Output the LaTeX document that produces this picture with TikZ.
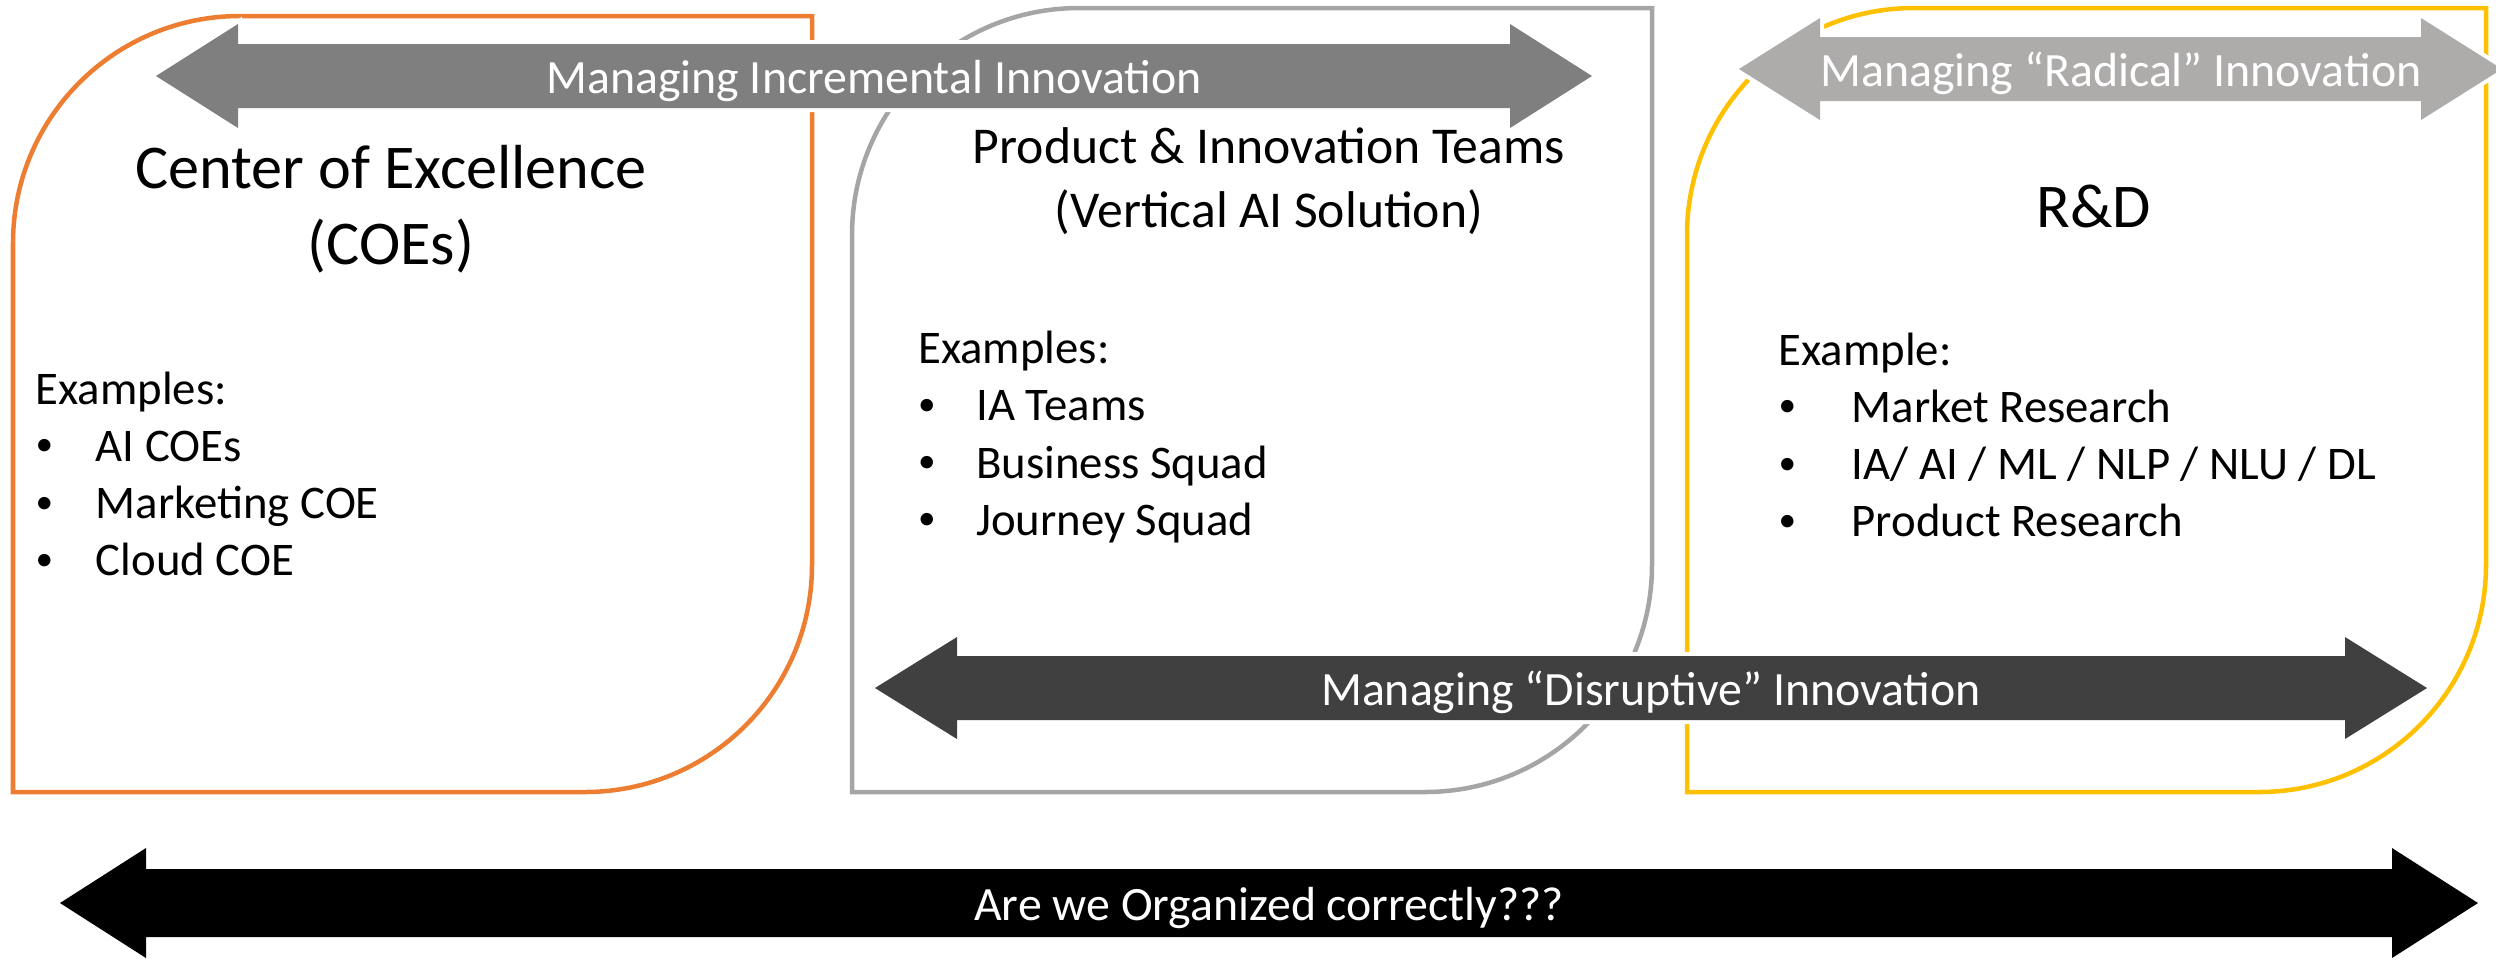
\documentclass[tikz,border=0pt]{standalone}
\usepackage{fontspec}
\setmainfont{Carlito}

\definecolor{coeorange}{HTML}{ED7D31}
\definecolor{teamgray}{HTML}{A5A5A5}
\definecolor{rndgold}{HTML}{FFC000}
\definecolor{incgray}{HTML}{7F7F7F}
\definecolor{radgray}{HTML}{AEABAB}
\definecolor{disgray}{HTML}{404040}

% leaf-shaped frame: rounded top-left and bottom-right corners
% #1 colour, #2 left, #3 top, #4 right, #5 bottom, #6 radius
\newcommand\leafbox[6]{%
  \draw[boxline, draw=#1] ({#2},{#5}) -- ({#2},{#3+#6})
    .. controls ({#2},{#3+0.4477*#6}) and ({#2+0.4477*#6},{#3}) .. ({#2+#6},{#3})
    -- ({#4},{#3}) -- ({#4},{#5-#6})
    .. controls ({#4},{#5-0.4477*#6}) and ({#4-0.4477*#6},{#5}) .. ({#4-#6},{#5})
    -- cycle;}

% horizontal block arrow with two heads and a white halo
% #1 colour, #2 left tip, #3 right tip, #4 centre y, #5 head half height,
% #6 shaft half height, #7 head length
\newcommand\blockarrow[7]{%
  \path[fill=#1, preaction={draw=white, line width=0.08cm, line join=miter}]
    ({#2},{#4}) -- ({#2+#7},{#4-#5}) -- ({#2+#7},{#4-#6})
    -- ({#3-#7},{#4-#6}) -- ({#3-#7},{#4-#5}) -- ({#3},{#4})
    -- ({#3-#7},{#4+#5}) -- ({#3-#7},{#4+#6}) -- ({#2+#7},{#4+#6})
    -- ({#2+#7},{#4+#5}) -- cycle;}

% list bullet in a box of the given width
\newcommand\bul[1]{\makebox[#1][l]{\raisebox{0.12em}{\fontsize{10}{10}\selectfont •}}}

\tikzset{
  boxline/.style={line width=0.045cm, line join=miter},
  titletext/.style={anchor=base, inner sep=0pt, font=\fontsize{17.7}{21.6}\selectfont},
  teamtext/.style={anchor=base, inner sep=0pt, font=\fontsize{14.7}{18.3}\selectfont},
  listtext/.style={anchor=base west, inner sep=0pt, font=\fontsize{13.3}{16.3}\selectfont},
  arrowlabel/.style={anchor=base, inner sep=0pt, text=white, font=\fontsize{13.6}{16}\selectfont}
}

\begin{document}
\begin{tikzpicture}[x=0.01cm, y=-0.01cm]
\useasboundingbox (0,0) rectangle (2496,959);

% frames
\leafbox{coeorange}{13}{16}{812}{792}{227}
\leafbox{teamgray}{852}{8}{1652}{792}{227}
\leafbox{rndgold}{1687}{8}{2486}{792}{227}

% block arrows
\blockarrow{incgray}{156}{1592}{76}{52}{32}{82}
\blockarrow{radgray}{1739}{2502}{69}{51}{32}{81}
\blockarrow{disgray}{875}{2427}{688}{51}{32}{82}
\blockarrow{black}{60}{2478}{903}{55}{34}{86}

% arrow labels
\node[arrowlabel] (incLabel) at (874,93) {Managing Incremental Innovation};
\node[arrowlabel] (radLabel) at (2121,86) {Managing “Radical” Innovation};
\node[arrowlabel] (disLabel) at (1651,705) {Managing “Disruptive” Innovation};
\node[arrowlabel] (orgLabel) at (1269,920) {Are we Organized correctly???};

% titles
\node[titletext] (coeTitleA) at (391,188) {Center of Excellence};
\node[titletext] (coeTitleB) at (391,264) {(COEs)};
\node[teamtext] (teamTitleA) at (1269,163) {Product \& Innovation Teams};
\node[teamtext] (teamTitleB) at (1269,227.5) {(Vertical AI Solution)};
\node[titletext] (rndTitle) at (2094,227.5) {R\&D};

% example lists
\node[listtext] (coeList) at (35,404) {\begin{tabular}[t]{@{}l@{}}
  Examples:\\
  \bul{0.6cm}AI COEs\\
  \bul{0.6cm}Marketing COE\\
  \bul{0.6cm}Cloud COE
\end{tabular}};
\node[listtext] (teamList) at (917.5,363.5) {\begin{tabular}[t]{@{}l@{}}
  Examples:\\
  \bul{0.58cm}IA Teams\\
  \bul{0.58cm}Business Squad\\
  \bul{0.58cm}Journey Squad
\end{tabular}};
\node[listtext] (rndList) at (1778,365) {\begin{tabular}[t]{@{}l@{}}
  Example:\\
  \bul{0.73cm}Market Research\\
  \bul{0.73cm}IA/ AI / ML / NLP / NLU / DL\\
  \bul{0.73cm}Product Research
\end{tabular}};
\end{tikzpicture}
\end{document}
